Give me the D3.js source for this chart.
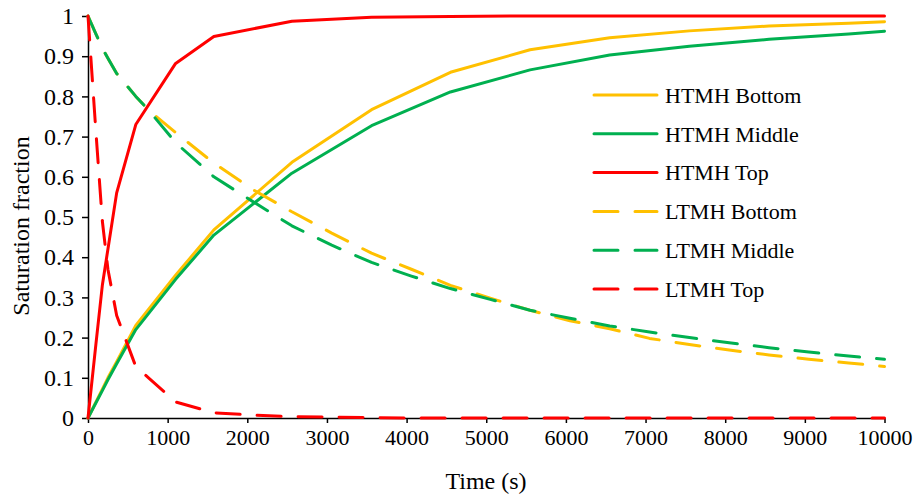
<!DOCTYPE html>
<html>
<head>
<meta charset="utf-8">
<script src="https://cdn.jsdelivr.net/npm/d3@7"></script>
<style>
  html, body { margin: 0; padding: 0; background: #fff; }
  svg { display: block; }
  text { font-family: "Liberation Serif", "Times New Roman", serif; fill: #000; }
</style>
</head>
<body>
<svg id="chart" width="916" height="495"></svg>
<script>
// ---- data ----
const timesH = [0, 100, 180, 250, 360, 600, 1100, 1580, 2560, 3560, 4550, 5550, 6550, 7550, 8550, 9550, 10000];
const htmhBottom = [0, 0.04, 0.072, 0.1, 0.14, 0.23, 0.355, 0.468, 0.636, 0.767, 0.86, 0.916, 0.946, 0.963, 0.975, 0.982, 0.986];
const htmhMiddle = [0, 0.038, 0.068, 0.095, 0.135, 0.22, 0.345, 0.455, 0.609, 0.727, 0.811, 0.866, 0.903, 0.925, 0.942, 0.955, 0.962];
const htmhTop    = [0, 0.185, 0.33, 0.42, 0.56, 0.73, 0.882, 0.949, 0.987, 0.997, 0.999, 1, 1, 1, 1, 1, 1];

const timesL = [0, 100, 180, 250, 360, 600, 760, 1100, 1580, 2080, 2560, 3060, 3560, 4060, 4550, 5050, 5550, 6050, 6550, 7050, 7550, 8050, 8550, 9050, 9550, 10000];
const ltmhBottom = [1, 0.955, 0.92, 0.895, 0.857, 0.80, 0.766, 0.71, 0.634, 0.567, 0.513, 0.46, 0.41, 0.37, 0.33, 0.298, 0.268, 0.242, 0.222, 0.198, 0.183, 0.169, 0.157, 0.146, 0.137, 0.128];
const ltmhMiddle = [1, 0.955, 0.92, 0.895, 0.857, 0.80, 0.766, 0.685, 0.60, 0.537, 0.478, 0.43, 0.387, 0.353, 0.322, 0.295, 0.268, 0.248, 0.229, 0.214, 0.2, 0.187, 0.175, 0.164, 0.154, 0.146];
const ltmhTop    = [1, 0.71, 0.49, 0.37, 0.255, 0.128, 0.1, 0.04, 0.013, 0.007, 0.003, 0.002, 0.001, 0, 0, 0, 0, 0, 0, 0, 0, 0, 0, 0, 0, 0];

const seriesNames = ["HTMH Bottom", "HTMH Middle", "HTMH Top", "LTMH Bottom", "LTMH Middle", "LTMH Top"];
const xTicks = [0, 1000, 2000, 3000, 4000, 5000, 6000, 7000, 8000, 9000, 10000];
const yTicks = [0, 0.1, 0.2, 0.3, 0.4, 0.5, 0.6, 0.7, 0.8, 0.9, 1];
const xTitle = "Time (s)";
const yTitle = "Saturation fraction";

// ---- styling ----
const YELLOW = "#FFC000", GREEN = "#00B050", RED = "#FF0000";
const series = [
  { name: seriesNames[0], t: timesH, v: htmhBottom, color: YELLOW, dashed: false },
  { name: seriesNames[1], t: timesH, v: htmhMiddle, color: GREEN, dashed: false },
  { name: seriesNames[2], t: timesH, v: htmhTop,    color: RED,    dashed: false },
  { name: seriesNames[3], t: timesL, v: ltmhBottom, color: YELLOW, dashed: true },
  { name: seriesNames[4], t: timesL, v: ltmhMiddle, color: GREEN, dashed: true },
  { name: seriesNames[5], t: timesL, v: ltmhTop,    color: RED,    dashed: true }
];

const svg = d3.select("#chart");
const mLeft = 88, mRight = 884.5, mTop = 16, mBottom = 418;
const x = d3.scaleLinear().domain([0, 10000]).range([mLeft, mRight]);
const y = d3.scaleLinear().domain([0, 1]).range([mBottom, mTop]);
const FS = 22, FSY = 24, FST = 24;
const FONT = "Liberation Serif, Times New Roman, serif";

// axes
const xAxis = svg.append("g").attr("transform", `translate(0,${mBottom})`)
  .call(d3.axisBottom(x).tickValues(xTicks).tickSize(5).tickSizeOuter(0).tickPadding(6).tickFormat(d3.format("d")));
const yAxis = svg.append("g").attr("transform", `translate(${mLeft},0)`)
  .call(d3.axisLeft(y).tickValues(yTicks).tickSize(6).tickSizeOuter(0).tickPadding(8).tickFormat(d => d === 0 ? "0" : d === 1 ? "1" : d3.format(".1f")(d)));
[xAxis, yAxis].forEach(g => {
  g.attr("font-family", FONT);
  g.selectAll("path.domain").attr("stroke", "#000").attr("stroke-width", 1.5);
  g.selectAll(".tick line").attr("stroke", "#000").attr("stroke-width", 1.5);
  g.selectAll("text").attr("font-family", FONT).attr("fill", "#000");
});
xAxis.selectAll("text").attr("font-size", FS).attr("dy", "0.71em");
yAxis.selectAll("text").attr("font-size", FSY);

// lines
const line = d3.line().x(d => x(d[0])).y(d => y(d[1]));
series.forEach(s => {
  const pts = s.t.map((t, i) => [t, s.v[i]]);
  svg.append("path").datum(pts)
    .attr("d", line)
    .attr("fill", "none")
    .attr("stroke", s.color)
    .attr("stroke-width", 3)
    .attr("stroke-linejoin", "round")
    .attr("stroke-linecap", "round")
    .attr("stroke-dasharray", s.dashed ? "24,17" : null);
});

// axis titles
svg.append("text").attr("x", 486).attr("y", 489)
  .attr("text-anchor", "middle").attr("font-size", FST).text(xTitle);
svg.append("text").attr("transform", `translate(29,226) rotate(-90)`)
  .attr("text-anchor", "middle").attr("font-size", FST).text(yTitle);

// legend
const legX1 = 594, legX2 = 657, legY0 = 95, legDy = 38.8;
const leg = svg.append("g");
series.forEach((s, i) => {
  const yy = legY0 + i * legDy;
  leg.append("line").attr("x1", legX1).attr("x2", legX2).attr("y1", yy).attr("y2", yy)
    .attr("stroke", s.color).attr("stroke-width", 3).attr("stroke-linecap", "round")
    .attr("stroke-dasharray", s.dashed ? "24,17" : null);
  leg.append("text").attr("x", 665).attr("y", yy).attr("dy", "0.35em")
    .attr("font-size", FS).text(s.name);
});
</script>
</body>
</html>
